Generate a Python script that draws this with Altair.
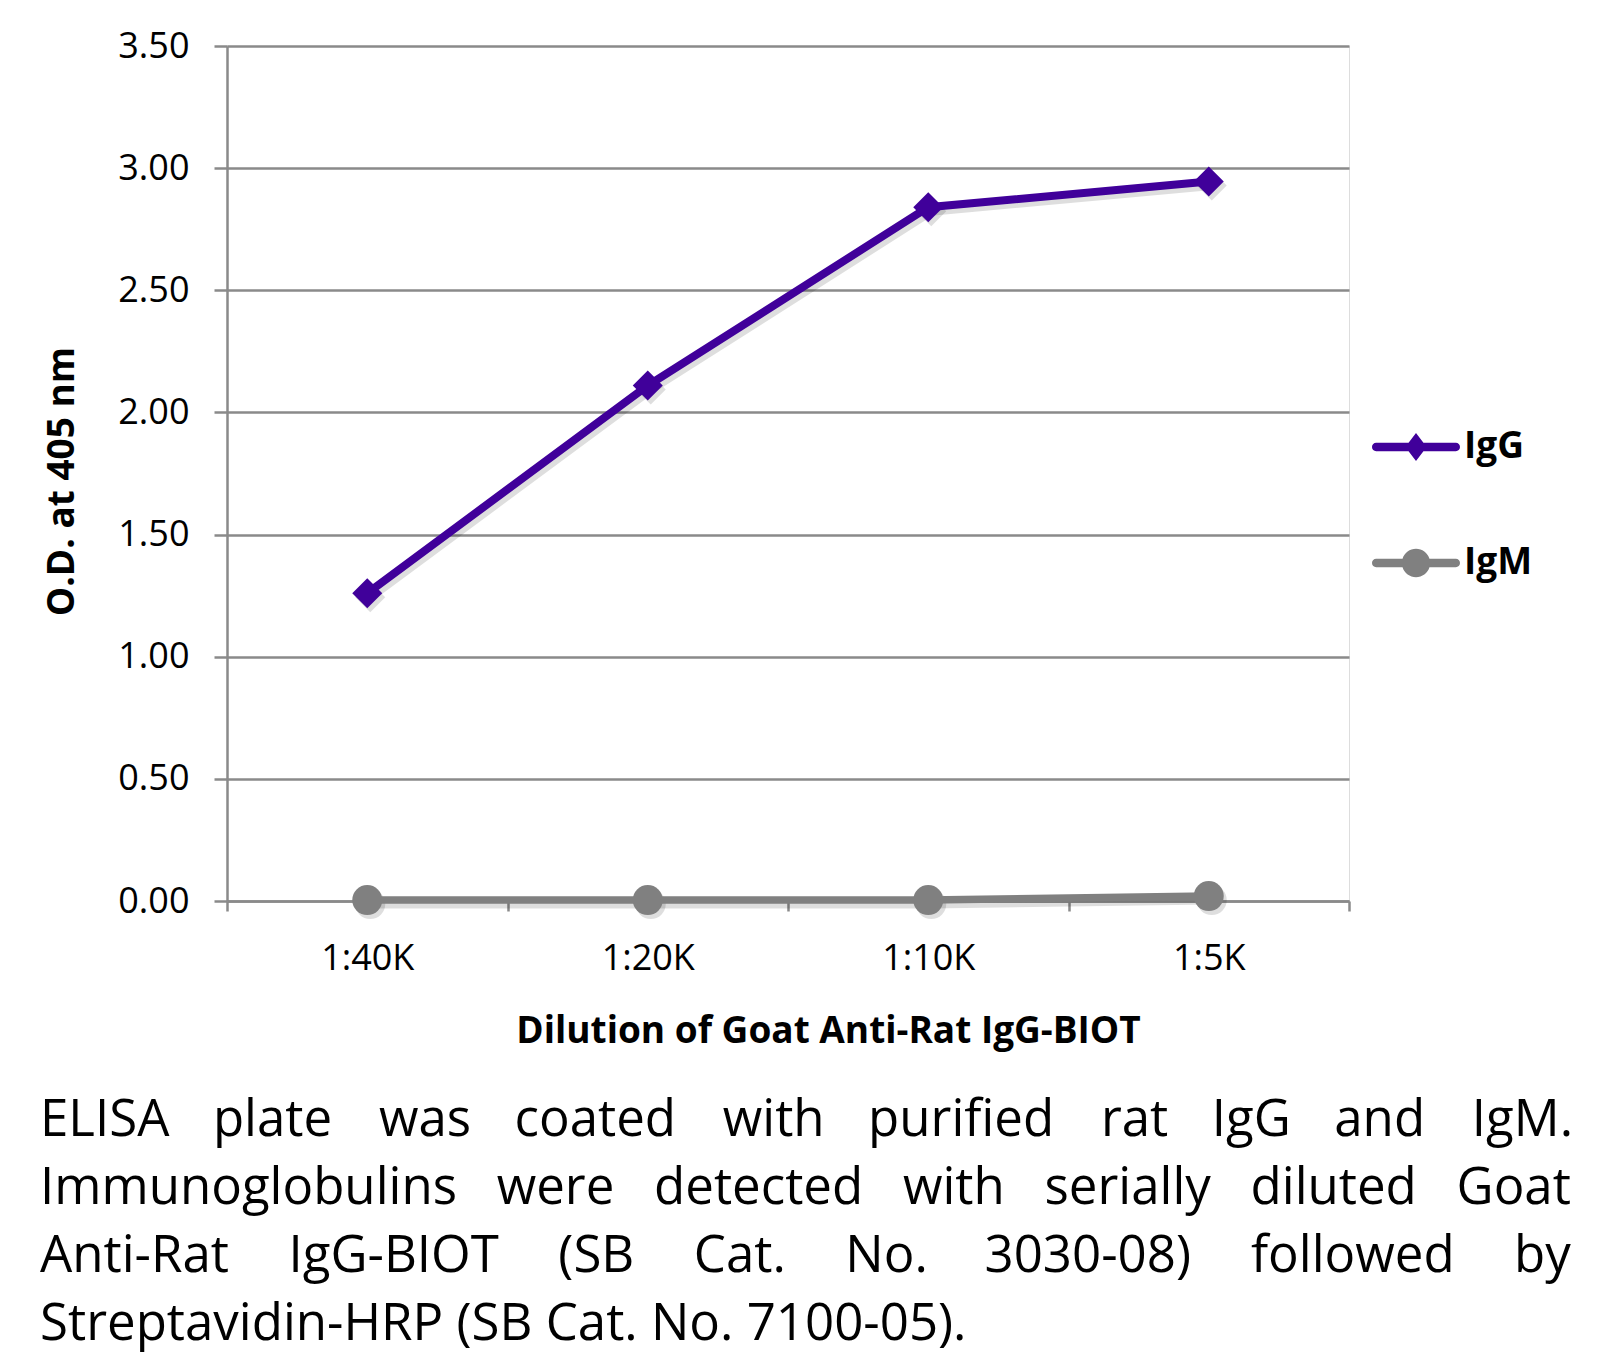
import itertools
import altair as alt
import pandas as pd

# ---------------- data ----------------
dilutions = ["1:40K", "1:20K", "1:10K", "1:5K"]
igg_od = [1.26, 2.11, 2.84, 2.945]
igm_od = [0.004, 0.004, 0.004, 0.02]
series_names = ["IgG", "IgM"]
series_colors = ["#40009A", "#808080"]
y_tick_values = [0.0, 0.5, 1.0, 1.5, 2.0, 2.5, 3.0, 3.5]
x_title = "Dilution of Goat Anti-Rat IgG-BIOT"
y_title = "O.D. at 405 nm"
caption_lines = [
    "ELISA plate was coated with purified rat IgG and IgM.",
    "Immunoglobulins were detected with serially diluted Goat",
    "Anti-Rat IgG-BIOT (SB Cat. No. 3030-08) followed by",
    "Streptavidin-HRP (SB Cat. No. 7100-05).",
]
# word-gap width (in em) of each caption line, to imitate the justified block
caption_gap_em = [0.88, 0.78, 1.16, None]

df = pd.DataFrame({
    "dilution": dilutions * 2,
    "od": igg_od + igm_od,
    "series": [series_names[0]] * len(dilutions) + [series_names[1]] * len(dilutions),
})

# unicode space characters and their nominal widths (em)
SPACES = [("\u00a0", 0.26), ("\u2006", 1 / 6), ("\u2005", 0.25),
          ("\u2004", 1 / 3), ("\u2002", 0.5), ("\u2003", 1.0)]
COMBOS = []
for k in range(1, 5):
    for combo in itertools.combinations_with_replacement(SPACES, k):
        COMBOS.append(("".join(c[0] for c in combo), sum(c[1] for c in combo)))


def justify(line, gap_em):
    if gap_em is None:
        return line
    words = line.split(" ")
    out, cum = words[0], 0.0
    for i, w in enumerate(words[1:]):
        goal = (i + 1) * gap_em
        s, width = min(COMBOS, key=lambda c: abs(cum + c[1] - goal))
        cum += width
        out += s + w
    return out


caption_text = [justify(l, g) for l, g in zip(caption_lines, caption_gap_em)]

GRAY = "#8A8A8A"
FONT = "Open Sans"

# legend symbols: line with diamond / line with circle (unit square -1..1)
legend_symbols = [
    "M-0.905,-0.095 L-0.169,-0.095 L0,-0.32 L0.169,-0.095 L0.905,-0.095 "
    "A0.095,0.095 0 0 1 0.905,0.095 L0.169,0.095 L0,0.32 L-0.169,0.095 "
    "L-0.905,0.095 A0.095,0.095 0 0 1 -0.905,-0.095 Z",
    "M-0.905,-0.095 L-0.306,-0.095 A0.32,0.32 0 0 1 0.306,-0.095 L0.905,-0.095 "
    "A0.095,0.095 0 0 1 0.905,0.095 L0.306,0.095 A0.32,0.32 0 0 1 -0.306,0.095 "
    "L-0.905,0.095 A0.095,0.095 0 0 1 -0.905,-0.095 Z",
]

x_scale = alt.Scale(type="band", domain=dilutions, paddingInner=0, paddingOuter=0)
y_scale = alt.Scale(domain=[0, 3.5], nice=False, zero=True)
color_scale = alt.Scale(domain=series_names, range=series_colors)

x_axis = alt.Axis(
    title=x_title, orient="bottom", labelAngle=0, tickBand="extent", grid=False,
    ticks=True, tickSize=10, tickWidth=2.5, tickColor=GRAY,
    domainColor=GRAY, domainWidth=2.5,
    labelFont=FONT, labelFontSize=36, labelColor="black", labelPadding=30,
    titleFont=FONT, titleFontSize=37, titleFontWeight="bold", titleColor="black",
    titleX=601, titleY=130, titleBaseline="middle", titleAlign="center",
)
y_axis = alt.Axis(
    title=y_title, values=y_tick_values, format=".2f", grid=True,
    gridColor=GRAY, gridWidth=2.5, tickSize=13, tickWidth=2.5, tickColor=GRAY,
    domainColor=GRAY, domainWidth=2.5,
    labelFont=FONT, labelFontSize=36, labelColor="black", labelPadding=25,
    titleFont=FONT, titleFontSize=37, titleFontWeight="bold", titleColor="black",
    titleAngle=270, titleX=-165, titleY=435, titleBaseline="middle", titleAlign="center",
)

X = alt.X("dilution:N", sort=dilutions, scale=x_scale, axis=x_axis)
Y = alt.Y("od:Q", scale=y_scale, axis=y_axis)

base = alt.Chart(df)
igg = base.transform_filter(alt.datum.series == series_names[0])
igm = base.transform_filter(alt.datum.series == series_names[1])

SH = dict(color="black", opacity=0.13, xOffset=3, yOffset=4)

layers = []
# soft drop shadows
layers.append(igg.mark_line(strokeWidth=9, **SH).encode(x=X, y=Y))
layers.append(igm.mark_line(strokeWidth=9, **SH).encode(x=X, y=Y))
layers.append(igg.mark_point(shape="diamond", filled=True, size=900, **SH).encode(x=X, y=Y))
layers.append(igm.mark_point(shape="circle", filled=True, size=900, **SH).encode(x=X, y=Y))
# series
layers.append(igm.mark_line(strokeWidth=7.5, color=series_colors[1]).encode(x=X, y=Y))
layers.append(igm.mark_point(shape="circle", filled=True, size=900, opacity=1,
                             color=series_colors[1]).encode(x=X, y=Y))
layers.append(igg.mark_line(strokeWidth=8, color=series_colors[0]).encode(x=X, y=Y))
layers.append(igg.mark_point(shape="diamond", filled=True, size=900, opacity=1,
                             color=series_colors[0]).encode(x=X, y=Y))

legend_def = alt.Legend(
    orient="none", legendX=1145, legendY=357, title=None,
    symbolSize=7744, symbolStrokeWidth=0, symbolOpacity=1,
    labelFont=FONT, labelFontSize=37, labelFontWeight="bold", labelColor="black",
    labelOffset=4, rowPadding=54, padding=0, labelLimit=400,
)
layers.append(base.transform_filter("false").mark_point(filled=True, opacity=1).encode(
    x=X, y=Y,
    color=alt.Color("series:N", scale=color_scale, legend=legend_def),
    shape=alt.Shape("series:N", scale=alt.Scale(domain=series_names, range=legend_symbols),
                    legend=legend_def),
))

chart = alt.layer(*layers).properties(
    width=1122,
    height=855,
    autosize=alt.AutoSizeParams(type="none"),
    padding={"left": 219, "top": 38, "right": 250, "bottom": 456},
    title=alt.TitleParams(
        text=caption_text, orient="bottom", anchor="start", frame="group",
        dx=-187, offset=47, font=FONT, fontSize=51, fontWeight="normal",
        color="black", lineHeight=68,
    ),
).configure_view(stroke=None).configure(background="white")

chart.save("out.html", embed_options={"renderer": "svg", "actions": False})
